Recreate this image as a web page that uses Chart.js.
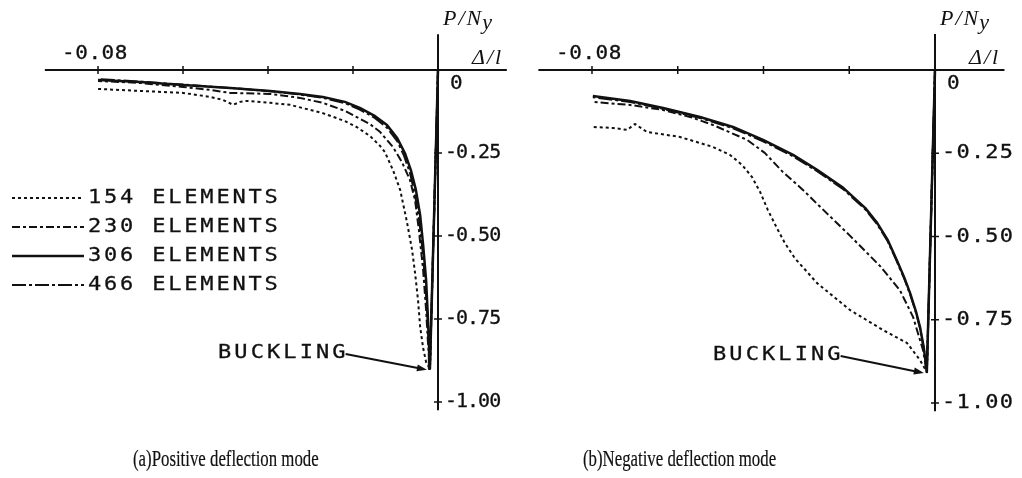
<!DOCTYPE html>
<html>
<head>
<meta charset="utf-8">
<script src="https://cdn.jsdelivr.net/npm/chart.js@4"></script>
<style>
  html, body { margin: 0; padding: 0; background: #fff; }
  #wrap { position: relative; width: 1022px; height: 478px; overflow: hidden; }
  canvas { position: absolute; top: 0; }
  #panelA { left: 0; }
  #panelB { left: 511px; }
</style>
</head>
<body>
<div id="wrap">
  <canvas id="panelA" width="560" height="478"></canvas>
  <canvas id="panelB" width="511" height="478"></canvas>
</div>
<script>
// load-deflection paths, [delta/l, P/Ny], from the origin through buckling and beyond
const seriesLabels = ['154 ELEMENTS', '230 ELEMENTS', '306 ELEMENTS', '466 ELEMENTS'];

const pos154 = [[0,0],[-0.0019,-0.900],[-0.0028,-0.880],[-0.0035,-0.837],[-0.0042,-0.774],[-0.0047,-0.693],[-0.0054,-0.611],[-0.0061,-0.542],[-0.0073,-0.458],[-0.0089,-0.361],[-0.0106,-0.301],[-0.0125,-0.247],[-0.0136,-0.229],[-0.0160,-0.199],[-0.0191,-0.172],[-0.0219,-0.154],[-0.0271,-0.130],[-0.0348,-0.105],[-0.0395,-0.099],[-0.0449,-0.093],[-0.0466,-0.096],[-0.0482,-0.105],[-0.0506,-0.090],[-0.0536,-0.081],[-0.0600,-0.069],[-0.0701,-0.063],[-0.0800,-0.057]];
const pos230 = [[0,0],[-0.0019,-0.900],[-0.0024,-0.813],[-0.0028,-0.723],[-0.0035,-0.602],[-0.0045,-0.482],[-0.0054,-0.392],[-0.0066,-0.331],[-0.0085,-0.277],[-0.0106,-0.232],[-0.0136,-0.187],[-0.0160,-0.163],[-0.0191,-0.142],[-0.0219,-0.123],[-0.0271,-0.099],[-0.0325,-0.084],[-0.0395,-0.072],[-0.0489,-0.069],[-0.0536,-0.060],[-0.0600,-0.051],[-0.0701,-0.039],[-0.0800,-0.033]];
const pos306 = [[0,0],[-0.0019,-0.900],[-0.0021,-0.828],[-0.0024,-0.738],[-0.0028,-0.633],[-0.0035,-0.527],[-0.0042,-0.437],[-0.0052,-0.361],[-0.0064,-0.301],[-0.0078,-0.250],[-0.0096,-0.205],[-0.0120,-0.166],[-0.0148,-0.139],[-0.0184,-0.114],[-0.0219,-0.096],[-0.0271,-0.081],[-0.0325,-0.072],[-0.0395,-0.063],[-0.0489,-0.054],[-0.0600,-0.045],[-0.0701,-0.036],[-0.0800,-0.030]];
const pos466 = [[0,0],[-0.0019,-0.900],[-0.0022,-0.830],[-0.0025,-0.740],[-0.0030,-0.640],[-0.0037,-0.535],[-0.0045,-0.445],[-0.0055,-0.370],[-0.0066,-0.310],[-0.0080,-0.258],[-0.0096,-0.214],[-0.0120,-0.174],[-0.0148,-0.145],[-0.0184,-0.119],[-0.0219,-0.100],[-0.0271,-0.084],[-0.0325,-0.074],[-0.0395,-0.064],[-0.0489,-0.054],[-0.0600,-0.044],[-0.0701,-0.035],[-0.0800,-0.027]];

const neg154 = [[0,0],[-0.0019,-0.907],[-0.0035,-0.871],[-0.0065,-0.820],[-0.0121,-0.781],[-0.0198,-0.721],[-0.0275,-0.640],[-0.0327,-0.565],[-0.0350,-0.520],[-0.0369,-0.474],[-0.0390,-0.420],[-0.0408,-0.366],[-0.0427,-0.321],[-0.0450,-0.285],[-0.0478,-0.255],[-0.0518,-0.231],[-0.0595,-0.201],[-0.0672,-0.186],[-0.0700,-0.162],[-0.0718,-0.180],[-0.0751,-0.174],[-0.0798,-0.171]];
const neg230 = [[0,0],[-0.0019,-0.907],[-0.0028,-0.841],[-0.0051,-0.742],[-0.0082,-0.661],[-0.0128,-0.589],[-0.0198,-0.498],[-0.0275,-0.402],[-0.0308,-0.360],[-0.0355,-0.306],[-0.0397,-0.249],[-0.0438,-0.210],[-0.0518,-0.165],[-0.0571,-0.141],[-0.0634,-0.120],[-0.0711,-0.105],[-0.0798,-0.096]];
const neg306 = [[0,0],[-0.0019,-0.907],[-0.0026,-0.835],[-0.0035,-0.772],[-0.0044,-0.727],[-0.0058,-0.670],[-0.0072,-0.622],[-0.0089,-0.571],[-0.0110,-0.511],[-0.0135,-0.459],[-0.0163,-0.414],[-0.0214,-0.354],[-0.0275,-0.300],[-0.0331,-0.255],[-0.0401,-0.210],[-0.0471,-0.171],[-0.0548,-0.141],[-0.0634,-0.114],[-0.0711,-0.093],[-0.0798,-0.078]];
const neg466 = [[0,0],[-0.0019,-0.907],[-0.0026,-0.837],[-0.0035,-0.775],[-0.0044,-0.730],[-0.0058,-0.674],[-0.0072,-0.626],[-0.0089,-0.575],[-0.0110,-0.515],[-0.0135,-0.463],[-0.0163,-0.418],[-0.0214,-0.358],[-0.0275,-0.304],[-0.0331,-0.259],[-0.0401,-0.214],[-0.0471,-0.175],[-0.0548,-0.144],[-0.0634,-0.117],[-0.0711,-0.096],[-0.0798,-0.082]];

const bucklePos = [-0.0019, -0.900];
const buckleNeg = [-0.0019, -0.907];

const xTicks = [-0.08, -0.06, -0.04, -0.02, 0];
const xTickLabels = ['-0.08', '', '', '', ''];
const yTicks = [0, -0.25, -0.50, -0.75, -1.00];
const yTickLabels = ['0', '-0.25', '-0.50', '-0.75', '-1.00'];

// line styles per series
const ink = '#111';
const dashes = [[3, 3], [8, 3, 3, 3], [], [14, 3, 3, 3]];
const widths = [2, 2, 2.5, 2];

const plotFont = '20px "DejaVu Sans Mono"';
const mathFont = 'italic 22px "Liberation Serif"';

// plotter-style lettering: stretched mono glyphs, slightly emboldened
function text(ctx, str, x, y, font, align, spacing, hScale, bold) {
  const hs = hScale || 1;
  ctx.save();
  ctx.translate(x, y);
  ctx.scale(hs, 1);
  ctx.font = font;
  ctx.letterSpacing = (spacing || 0) + 'px';
  ctx.textAlign = align || 'left';
  ctx.textBaseline = 'middle';
  ctx.fillText(str, 0, 0);
  if (bold) {
    ctx.lineWidth = bold;
    ctx.strokeText(str, 0, 0);
  }
  const w = ctx.measureText(str).width * hs;
  ctx.restore();
  return w;
}

const figurePlugin = {
  id: 'figure',
  beforeDatasetsDraw(chart) {
    const {ctx, scales: {x, y}} = chart;
    const x0 = x.getPixelForValue(0), y0 = y.getPixelForValue(0);
    ctx.save();
    ctx.strokeStyle = ink;
    ctx.lineWidth = 2;
    ctx.beginPath();
    ctx.moveTo(x.getPixelForValue(-0.0925), y0);
    ctx.lineTo(x.getPixelForValue(0.0162), y0);
    ctx.moveTo(x0, y.getPixelForValue(0.108));
    ctx.lineTo(x0, y.getPixelForValue(-1.025));
    ctx.stroke();
    ctx.lineWidth = 1.5;
    ctx.beginPath();
    xTicks.forEach(v => {
      const px = x.getPixelForValue(v);
      ctx.moveTo(px, y0 - 4); ctx.lineTo(px, y0 + 4);
    });
    yTicks.forEach(v => {
      const py = y.getPixelForValue(v);
      ctx.moveTo(x0 - 4, py); ctx.lineTo(x0 + 4, py);
    });
    ctx.stroke();
    ctx.restore();
  },
  afterDraw(chart, args, opts) {
    const {ctx, scales: {x, y}} = chart;
    const x0 = x.getPixelForValue(0), y0 = y.getPixelForValue(0);
    ctx.save();
    ctx.fillStyle = ink;
    ctx.strokeStyle = ink;

    // tick labels
    xTicks.forEach((v, i) => {
      if (xTickLabels[i]) text(ctx, xTickLabels[i], x.getPixelForValue(v) - 3, y0 - 16, plotFont, 'center', 0.5, 1.05, 0.3);
    });
    yTicks.forEach((v, i) => {
      if (i === 0) text(ctx, yTickLabels[i], x0 + 12, y0 + 14, plotFont, 'left', 0, 1.05, 0.3);
      else text(ctx, yTickLabels[i], x0 + 7, y.getPixelForValue(v), plotFont, 'left', opts.tickSpacing, opts.tickScale, 0.3);
    });

    // axis titles
    text(ctx, 'Δ/l', x0 + 34, y0 - 12, mathFont, 'left', 2);
    const pw = text(ctx, 'P/N', x0 + 5, y0 - 51, mathFont, 'left', 2);
    text(ctx, 'y', x0 + 5 + pw - 1, y0 - 47, mathFont, 'left', 0);

    // legend
    if (opts.legend) {
      chart.data.datasets.forEach((ds, i) => {
        const ly = 198 + i * 29;
        ctx.save();
        ctx.lineWidth = ds.borderWidth;
        ctx.setLineDash(ds.borderDash);
        ctx.beginPath();
        ctx.moveTo(12, ly); ctx.lineTo(84, ly);
        ctx.stroke();
        ctx.restore();
        text(ctx, ds.label, 88, ly, plotFont, 'left', 2.55, 1.1, 0.3);
      });
    }

    // buckling annotation
    const bx = x.getPixelForValue(opts.buckle[0]) - 3;
    const by = y.getPixelForValue(opts.buckle[1]) + 1;
    const tw = text(ctx, 'BUCKLING', opts.noteX, opts.noteY, plotFont, 'left', 2.8, 1.1, 0.3);
    const sx = opts.noteX + tw - 3, sy = opts.noteY + 1;
    const ang = Math.atan2(by - sy, bx - sx);
    ctx.lineWidth = 2;
    ctx.beginPath();
    ctx.moveTo(sx, sy);
    ctx.lineTo(bx - 8 * Math.cos(ang), by - 8 * Math.sin(ang));
    ctx.stroke();
    ctx.beginPath();
    ctx.moveTo(bx, by);
    ctx.lineTo(bx - 10 * Math.cos(ang) + 3.5 * Math.sin(ang), by - 10 * Math.sin(ang) - 3.5 * Math.cos(ang));
    ctx.lineTo(bx - 10 * Math.cos(ang) - 3.5 * Math.sin(ang), by - 10 * Math.sin(ang) + 3.5 * Math.cos(ang));
    ctx.closePath();
    ctx.fill();

    // caption, condensed serif
    text(ctx, opts.caption, opts.captionX, 460, '24px "Liberation Serif"', 'left', 0, 0.70, 0.2);

    ctx.restore();
  }
};

function makeDatasets(series) {
  return series.map((pts, i) => ({
    label: seriesLabels[i],
    data: pts.map(p => ({x: p[0], y: p[1]})),
    borderColor: ink,
    borderWidth: widths[i],
    borderDash: dashes[i],
    borderJoinStyle: 'round',
    pointRadius: 0,
    tension: 0,
    fill: false
  }));
}

function makeChart(id, series, range, figure) {
  return new Chart(document.getElementById(id), {
    type: 'line',
    data: { datasets: makeDatasets(series) },
    options: {
      responsive: false,
      animation: false,
      events: [],
      layout: { padding: 0 },
      scales: {
        x: { type: 'linear', display: false, min: range[0], max: range[1] },
        y: { type: 'linear', display: false, min: range[2], max: range[3] }
      },
      plugins: {
        legend: { display: false },
        tooltip: { enabled: false },
        figure: figure
      }
    },
    plugins: [figurePlugin]
  });
}

// panel A canvas is 560 wide, so its x range grows with it (4250 px per unit)
makeChart('panelA', [pos154, pos230, pos306, pos466],
  [-0.10306, 0.028706, -1.22892, 0.21084],
  { legend: true, buckle: bucklePos, noteX: 218, noteY: 353, captionX: 133,
    tickSpacing: -1, tickScale: 1.0, caption: '(a)Positive deflection mode' });

makeChart('panelB', [neg154, neg230, neg306, neg466],
  [-0.09889, 0.020292, -1.2252, 0.2102],
  { legend: false, buckle: buckleNeg, noteX: 202, noteY: 355, captionX: 72,
    tickSpacing: 1.1, tickScale: 1.1, caption: '(b)Negative deflection mode' });
</script>
</body>
</html>
